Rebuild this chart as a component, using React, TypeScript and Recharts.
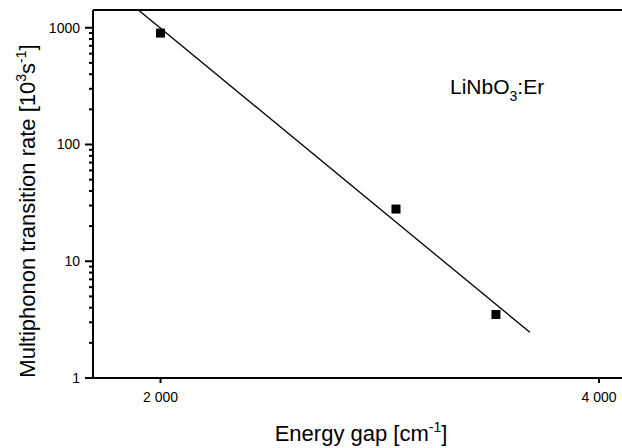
import React from "react"
import { ScatterChart, Scatter, XAxis, YAxis, ReferenceLine, Customized } from "recharts"

// measured points (energy gap in cm^-1, rate in 10^3 s^-1)
const gapValues = [2000, 3074, 3530]
const rateValues = [900, 28, 3.5]

// fitted line, clipped at the frame top
const fitGap = [1899, 3685]
const fitRate = [1419, 2.46]

const xDomain = [1692, 4105]
const yDomain = [1, 1419]
const xTicks = [2000, 4000]
const xTickLabels = ["2 000", "4 000"]
const yMajor = [1, 10, 100, 1000]
const yTicks = [
  1, 2, 3, 4, 5, 6, 7, 8, 9,
  10, 20, 30, 40, 50, 60, 70, 80, 90,
  100, 200, 300, 400, 500, 600, 700, 800, 900,
  1000,
]

const points = gapValues.map((x, i) => ({ x, y: rateValues[i] }))
const fit = fitGap.map((x, i) => ({ x, y: fitRate[i] }))

const FONT = "'Liberation Sans', Arial, Helvetica, sans-serif"

const Square = (props: any) => {
  const { cx, cy } = props
  if (cx == null || cy == null) return null
  return <rect x={cx - 4.5} y={cy - 4.5} width={9} height={9} fill="#000" />
}

const NoShape = () => null

// x here is axis x minus tickSize (4); minors are 4px, majors 8px with a label
const YTick = (props: any) => {
  const { x, y, payload } = props
  const major = yMajor.includes(payload.value)
  return (
    <g>
      <rect x={major ? x - 4 : x} y={y - 1} width={major ? 8 : 4} height={2} fill="#000" stroke="none" />
      {major && (
        <text x={x - 9} y={y} dy="0.35em" textAnchor="end" fontSize={14} fontFamily={FONT} fill="#000" stroke="none">
          {payload.value}
        </text>
      )}
    </g>
  )
}

const Titles = () => (
  <g fontFamily={FONT} fill="#000">
    <text x={361} y={441} fontSize={22} textAnchor="middle">
      Energy gap [cm<tspan dy={-9} fontSize={14}>-1</tspan>
      <tspan dy={9}>]</tspan>
    </text>
    <text x={35} y={211} fontSize={22} textAnchor="middle" transform="rotate(-90 35 211)">
      Multiphonon transition rate [10<tspan dy={-9} fontSize={14}>3</tspan>
      <tspan dy={9}>s</tspan>
      <tspan dy={-9} fontSize={14}>-1</tspan>
      <tspan dy={9}>]</tspan>
    </text>
    <text x={450} y={94} fontSize={21}>
      LiNbO<tspan dy={7} fontSize={14}>3</tspan>
      <tspan dy={-7}>:Er</tspan>
    </text>
  </g>
)

export default function App() {
  return (
    <div style={{ position: "absolute", left: 0, top: 0, background: "#fff" }}>
      <ScatterChart width={622} height={448} margin={{ top: 10, right: 0, left: 0, bottom: 0 }}>
        <XAxis
          type="number"
          dataKey="x"
          domain={xDomain}
          allowDataOverflow
          ticks={xTicks}
          tickFormatter={(v: number) => xTickLabels[xTicks.indexOf(v)] ?? String(v)}
          height={70}
          tickSize={5}
          tickMargin={9}
          axisLine={{ stroke: "#000", strokeWidth: 2 }}
          tickLine={{ stroke: "#000", strokeWidth: 2 }}
          tick={{ fontSize: 14, fontFamily: FONT, fill: "#000" }}
        />
        <YAxis
          type="number"
          dataKey="y"
          scale="log"
          domain={yDomain}
          allowDataOverflow
          ticks={yTicks}
          interval={0}
          width={93}
          tickSize={4}
          tickMargin={0}
          tickLine={false}
          axisLine={{ stroke: "#000", strokeWidth: 2 }}
          tick={<YTick />}
        />
        <ReferenceLine y={yDomain[1]} stroke="#000" strokeWidth={2} />
        <Scatter
          data={fit}
          line={{ stroke: "#000", strokeWidth: 1.3 }}
          shape={<NoShape />}
          isAnimationActive={false}
        />
        <Scatter data={points} shape={<Square />} isAnimationActive={false} />
        <Customized component={<Titles />} />
      </ScatterChart>
    </div>
  )
}
